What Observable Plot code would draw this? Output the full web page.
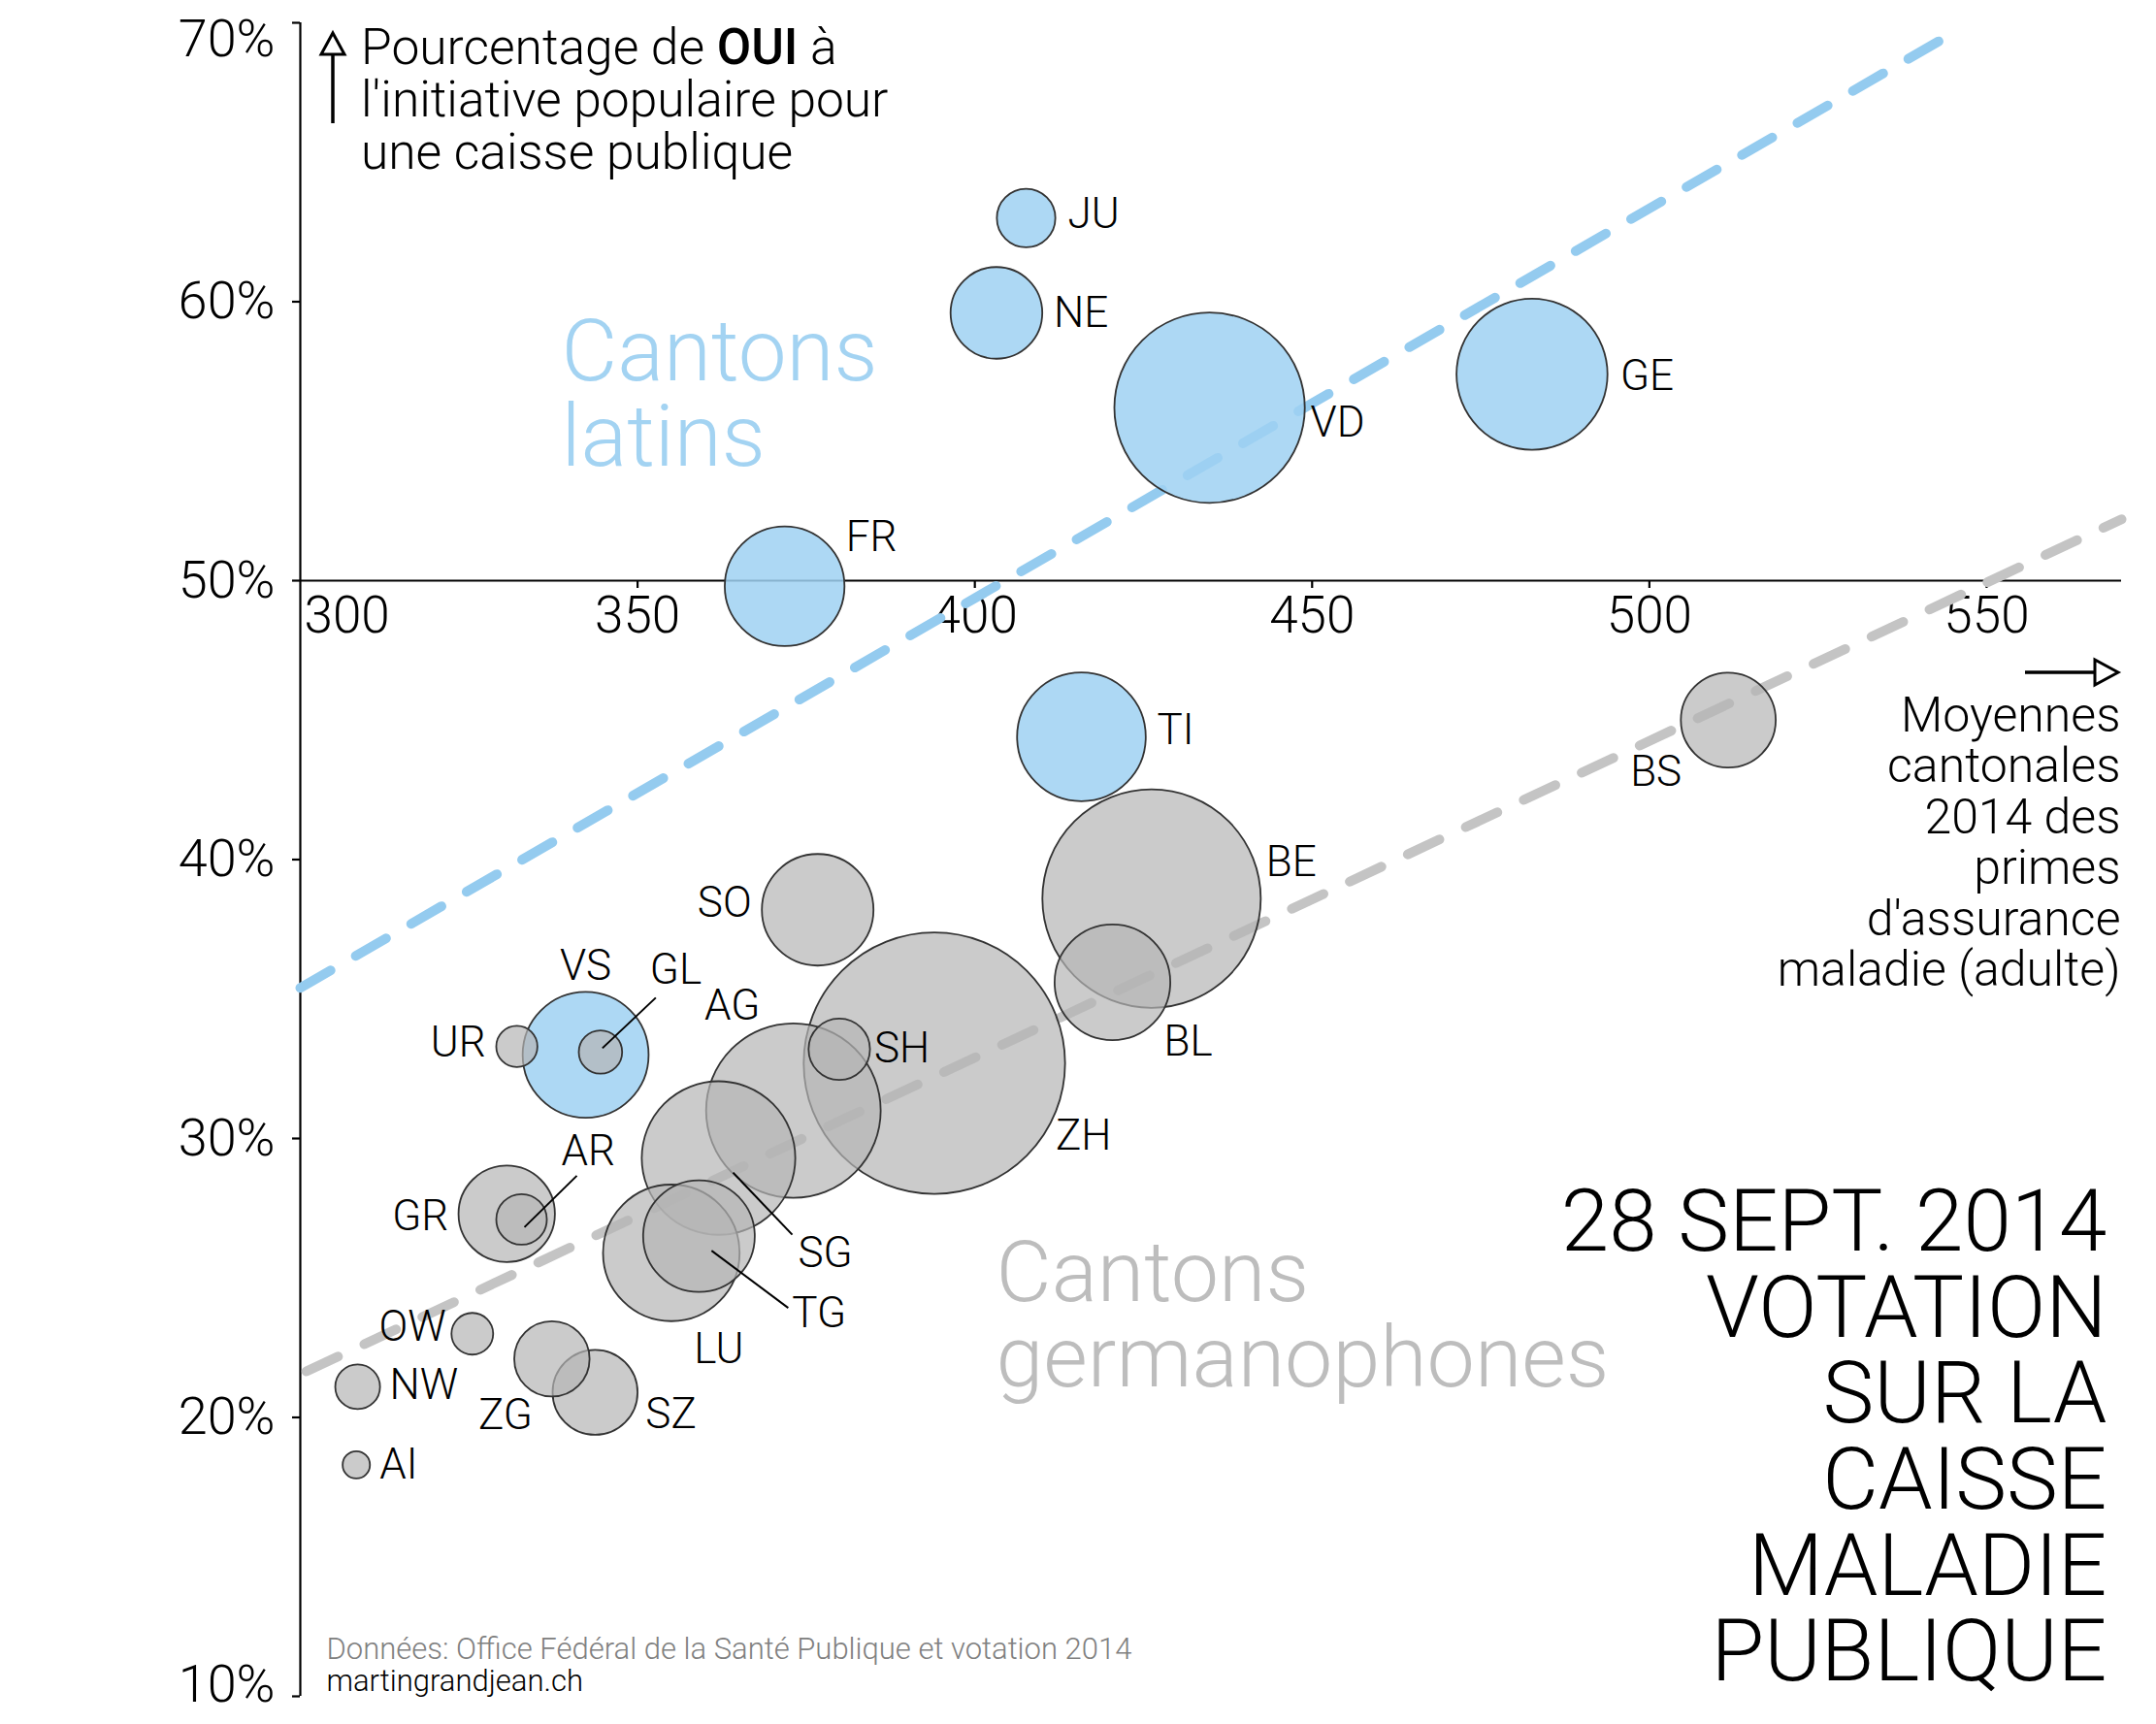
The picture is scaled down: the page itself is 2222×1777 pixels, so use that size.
<!DOCTYPE html>
<html>
<head>
<meta charset="utf-8">
<script src="https://cdn.jsdelivr.net/npm/d3@7"></script>
<script src="https://cdn.jsdelivr.net/npm/@observablehq/plot@0.6"></script>
<style>
  html, body { margin: 0; padding: 0; background: white; }
  svg { display: block; }
</style>
</head>
<body>
<div id="chart"></div>
<script>
// ---------- DATA ----------
const cantons    = ["ZH","BE","LU","UR","SZ","OW","NW","GL","ZG","FR","SO","BS","BL","SH","AR","AI","SG","GR","AG","TG","TI","VD","VS","NE","GE","JU"];
const premiums   = [394.0,426.2,355.0,332.1,343.7,325.5,308.5,344.5,337.3,371.8,376.7,511.7,420.4,379.9,332.8,308.3,362.0,330.6,373.1,359.1,415.8,434.8,342.3,403.2,482.6,407.6];
const ouiPct     = [32.7,38.6,25.9,33.3,20.9,23.0,21.1,33.1,22.1,49.8,38.2,45.0,35.6,33.2,27.1,18.3,29.3,27.3,31.0,26.5,44.4,56.2,33.0,59.6,57.4,63.0];
const population = [1446354,1009418,394604,35865,152759,36834,42420,39794,120089,303377,263719,190580,283231,79836,54064,15778,499065,196610,645277,263733,350363,767497,335696,177964,482545,72410];
const latinCantons = ["FR","TI","VD","VS","NE","GE","JU"];

const xTicks = [300, 350, 400, 450, 500, 550];
const yTicks = [10, 20, 30, 40, 50, 60, 70];

const trendLatinPremium  = [300, 545.5];
const trendLatinOui      = [35.4, 69.7];
const trendGermanPremium = [300.9, 570];
const trendGermanOui     = [21.65, 52.2];

// ---------- label layout (anchor, dx px, dy px from bubble centre) ----------
const labelLayout = {
  JU:["start",43,-4], NE:["start",59,0], VD:["start",104,16], GE:["start",91,2],
  FR:["start",63,-50], TI:["start",78,-7], BS:["end",-48,54], BE:["start",118,-37],
  BL:["start",53,61], ZH:["start",125,75], SO:["end",-68,-7], SH:["start",36,-1],
  AG:["middle",-63,-108], SG:["start",82,98], TG:["start",96,80], LU:["middle",49,100],
  VS:["middle",0,-91], GL:["start",51,-84], UR:["end",-32,-4], GR:["end",-60,3],
  AR:["start",41,-70], OW:["end",-27,-7], NW:["start",33,-1], ZG:["end",-20,58],
  SZ:["start",52,23], AI:["start",24,0]
};
const leaderLayout = { GL:[2,-4,57,-56], AR:[3,8,57,-45], SG:[15,15,76,79], TG:[13,15,92,74] };

// ---------- build ----------
const W = 2222, H = 1777;
const mL = 309, mR = 36, mT = 23, mB = 29;
const xDomain = [300, 570], yDomain = [10, 70];
const X = Plot.scale({x: {domain: xDomain, range: [mL, W - mR]}});
const Y = Plot.scale({y: {domain: yDomain, range: [H - mB, mT]}});

const data = cantons.map((c, i) => ({
  canton: c, premium: premiums[i], oui: ouiPct[i], pop: population[i],
  latin: latinCantons.includes(c)
})).sort((a, b) => b.pop - a.pop);

const labels = data.map(d => {
  const [anchor, dx, dy] = labelLayout[d.canton];
  return {...d, anchor,
    lx: X.invert(X.apply(d.premium) + dx),
    ly: Y.invert(Y.apply(d.oui) + dy)};
});
const leaders = data.filter(d => leaderLayout[d.canton]).map(d => {
  const [a, b, c, e] = leaderLayout[d.canton];
  const px = X.apply(d.premium), py = Y.apply(d.oui);
  return {x1: X.invert(px + a), y1: Y.invert(py + b), x2: X.invert(px + c), y2: Y.invert(py + e)};
});

const trendLatin  = trendLatinPremium.map((x, i) => ({x, y: trendLatinOui[i]}));
const trendGerman = trendGermanPremium.map((x, i) => ({x, y: trendGermanOui[i]}));

const FONT = "Roboto, 'Helvetica Neue', Arial, sans-serif";
const axisShift = Y.apply(50) - (H - mB);
const yEdge = [yDomain[0], yDomain[1]];

const decorations = (index, scales, values, dim) => {
  const g = d3.create("svg:g").attr("font-family", FONT).attr("font-weight", 300)
    .attr("text-anchor", "start");
  const ax = dim.marginLeft + 34;
  g.append("line").attr("x1", ax).attr("x2", ax).attr("y1", 55).attr("y2", 127)
    .attr("stroke", "black").attr("stroke-width", 3.5);
  g.append("path").attr("d", `M${ax},34 L${ax + 12},56 L${ax - 12},56 Z`)
    .attr("fill", "white").attr("stroke", "black").attr("stroke-width", 3);
  const t = g.append("text").attr("font-size", 51.5).attr("fill", "black").attr("text-anchor", "start");
  const tx = dim.marginLeft + 63;
  const l1 = t.append("tspan").attr("x", tx).attr("y", 66);
  l1.append("tspan").text("Pourcentage de ");
  l1.append("tspan").attr("font-weight", 500).text("OUI");
  l1.append("tspan").text(" à");
  t.append("tspan").attr("x", tx).attr("y", 120).text("l'initiative populaire pour");
  t.append("tspan").attr("x", tx).attr("y", 174).text("une caisse publique");
  // x arrow
  const ay = 693, xr = dim.width - dim.marginRight - 3;
  g.append("line").attr("x1", xr - 96).attr("x2", xr - 22).attr("y1", ay).attr("y2", ay)
    .attr("stroke", "black").attr("stroke-width", 3.5);
  g.append("path").attr("d", `M${xr},${ay} L${xr - 24},${ay - 13} L${xr - 24},${ay + 13} Z`)
    .attr("fill", "white").attr("stroke", "black").attr("stroke-width", 3);
  return g.node();
};

const chart = Plot.plot({
  width: W, height: H,
  marginLeft: mL, marginRight: mR, marginTop: mT, marginBottom: mB,
  x: {domain: xDomain, axis: null},
  y: {domain: yDomain, axis: null},
  r: {type: "sqrt", domain: [0, 1e6], range: [0, 112]},
  style: {fontFamily: FONT, fontWeight: 300, background: "white", color: "black"},
  marks: [
    // axes
    Plot.ruleX([300], {y1: 10, y2: 70, stroke: "black", strokeWidth: 2.2}),
    Plot.ruleY([50], {x1: 300, x2: 570, stroke: "black", strokeWidth: 2.2}),
    Plot.axisY({ticks: yTicks, tickSize: 8, tickPadding: 18, fontSize: 54,
      tickFormat: d => yEdge.includes(d) ? "" : d + "%", label: null, strokeWidth: 2.2}),
    Plot.text([70], {x: 300, y: d => d, text: d => d + "%", textAnchor: "end",
      dx: -26, dy: 17, fontSize: 54}),
    Plot.text([10], {x: 300, y: d => d, text: d => d + "%", textAnchor: "end",
      dx: -26, dy: -12, fontSize: 54}),
    Plot.axisX({ticks: xTicks.filter(d => d !== 300), anchor: "bottom", dy: axisShift,
      tickSize: 8, tickPadding: 8, fontSize: 53, label: null, strokeWidth: 2.2}),
    Plot.axisX({ticks: [300], anchor: "bottom", dy: axisShift, dx: 4, textAnchor: "start",
      tickSize: 0, tickPadding: 16, fontSize: 53, label: null}),
    // trend lines
    Plot.line(trendLatin, {x: "x", y: "y", stroke: "#94CBEF", strokeWidth: 10, strokeDasharray: "36,30"}),
    Plot.line(trendGerman, {x: "x", y: "y", stroke: "#C4C4C4", strokeWidth: 10, strokeDasharray: "36,30"}),
    // bubbles
    Plot.dot(data.filter(d => d.latin), {x: "premium", y: "oui", r: "pop",
      fill: "#9FD1F2", fillOpacity: 0.85, stroke: "#333", strokeWidth: 1.8}),
    Plot.dot(data.filter(d => !d.latin), {x: "premium", y: "oui", r: "pop",
      fill: "#B5B5B5", fillOpacity: 0.7, stroke: "#333", strokeWidth: 1.8}),
    // leaders + labels
    Plot.link(leaders, {x1: "x1", y1: "y1", x2: "x2", y2: "y2", stroke: "black", strokeWidth: 2}),
    ...["start", "middle", "end"].map(a =>
      Plot.text(labels.filter(d => d.anchor === a), {x: "lx", y: "ly", text: "canton",
        textAnchor: a, fontSize: 44, fill: "black"})),
    // group labels
    Plot.text(["Cantons\nlatins"], {frameAnchor: "top-left", lineAnchor: "top", textAnchor: "start", dx: 269, dy: 306,
      fontSize: 89, lineHeight: 0.99, fill: "#A3D3F2", text: d => d}),
    Plot.text(["Cantons\ngermanophones"], {frameAnchor: "top-left", lineAnchor: "top", textAnchor: "start", dx: 717, dy: 1255,
      fontSize: 88, lineHeight: 1.0, fill: "#BDBDBD", text: d => d}),
    // x description
    Plot.text(["Moyennes\ncantonales\n2014 des\nprimes\nd'assurance\nmaladie (adulte)"], {
      frameAnchor: "top-right", lineAnchor: "top", textAnchor: "end", dx: -1, dy: 693,
      fontSize: 50, lineHeight: 1.05, fill: "black", text: d => d}),
    // title
    Plot.text(["28 SEPT. 2014\nVOTATION\nSUR LA\nCAISSE\nMALADIE\nPUBLIQUE"], {
      frameAnchor: "top-right", lineAnchor: "top", textAnchor: "end", dx: -15, dy: 1203,
      fontSize: 89, lineHeight: 0.995, fill: "black", text: d => d}),
    // credits
    Plot.text(["Données: Office Fédéral de la Santé Publique et votation 2014"], {
      frameAnchor: "top-left", lineAnchor: "top", textAnchor: "start", dx: 27, dy: 1664,
      fontSize: 31, fill: "#808080", text: d => d}),
    Plot.text(["martingrandjean.ch"], {
      frameAnchor: "top-left", lineAnchor: "top", textAnchor: "start", dx: 27, dy: 1697,
      fontSize: 31, fill: "black", text: d => d}),
    decorations
  ]
});
document.getElementById("chart").appendChild(chart);
</script>
</body>
</html>
